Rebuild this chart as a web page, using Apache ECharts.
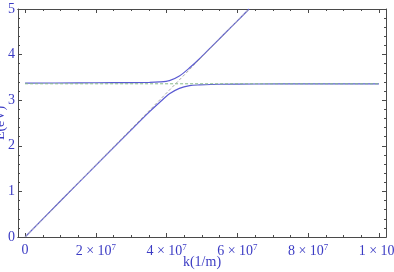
<!DOCTYPE html>
<html>
<head>
<meta charset="utf-8">
<script src="https://cdn.jsdelivr.net/npm/echarts@6/dist/echarts.min.js"></script>
<style>
  html, body { margin: 0; padding: 0; background: #fff; }
  #chart { width: 394px; height: 272px; }
</style>
</head>
<body>
<div id="chart"></div>
<script>
// wave vector k in 1/m, energy E in eV
const lowerK = [0, 1e7, 2e7, 3e7, 3.52e7, 3.8e7, 4.08e7, 4.36e7, 4.65e7, 4.93e7, 5.5e7, 6.5e7, 8e7, 1e8];
const lowerE = [0, 0.79, 1.57, 2.35, 2.75, 2.95, 3.14, 3.26, 3.32, 3.335, 3.35, 3.355, 3.36, 3.36];
const upperK = [0, 1.5e7, 2.5e7, 3.52e7, 3.8e7, 4.08e7, 4.36e7, 4.65e7, 4.93e7, 5.2e7, 5.6e7, 6.0e7, 6.33e7];
const upperE = [3.375, 3.38, 3.385, 3.39, 3.40, 3.43, 3.53, 3.71, 3.91, 4.12, 4.43, 4.74, 5.0];
const excitonK = [0, 1e8];
const excitonE = [3.36, 3.36];
const photonK = [0, 6.33e7];
const photonE = [0, 5];

// tick labels of the k axis: mantissa x 10^exponent
const xTickValues = [0, 2e7, 4e7, 6e7, 8e7, 1e8];
const xTickMant = ['0', '2', '4', '6', '8', '1'];
const xTickExp = ['', '7', '7', '7', '7', '8'];
const xMinorValues = [0, 5e6, 1e7, 1.5e7, 2e7, 2.5e7, 3e7, 3.5e7, 4e7, 4.5e7, 5e7, 5.5e7, 6e7, 6.5e7, 7e7, 7.5e7, 8e7, 8.5e7, 9e7, 9.5e7, 1e8];

const pairs = (xs, ys) => xs.map((x, i) => [x, ys[i]]);

const txtColor = '#3b3bc4';
const frameColor = '#4a4a4a';
const font = '"Liberation Serif", "DejaVu Serif", serif';

const chart = echarts.init(document.getElementById('chart'));

function xAxisDef (position, showLabel, values, tickLen) {
    return {
        type: 'value',
        position: position,
        min: -2e6,
        max: 1.02e8,
        axisLine: { show: true, onZero: false, lineStyle: { color: frameColor, width: 1 } },
        axisTick: { show: true, inside: true, length: tickLen, customValues: values,
            lineStyle: { color: frameColor } },
        axisLabel: {
            show: showLabel,
            customValues: values,
            margin: 6,
            color: txtColor,
            fontFamily: font,
            fontSize: 14,
            hideOverlap: false,
            formatter: function (v) {
                const i = xTickValues.indexOf(v);
                if (i < 0) return '';
                if (!xTickExp[i]) return '{m|' + xTickMant[i] + '}';
                return '{m|' + xTickMant[i] + ' \u00d7 10}{s|' + xTickExp[i] + '}';
            },
            rich: {
                m: { fontFamily: font, fontSize: 14, color: txtColor },
                s: { fontFamily: font, fontSize: 9, color: txtColor, verticalAlign: 'top', padding: [0, 0, 7, 0] }
            }
        },
        splitLine: { show: false }
    };
}

function yAxisDef (position, showLabel) {
    return {
        type: 'value',
        position: position,
        min: 0,
        max: 5,
        interval: 1,
        axisLine: { show: true, onZero: false, lineStyle: { color: frameColor, width: 1 } },
        axisTick: { show: true, inside: true, length: 4, lineStyle: { color: frameColor } },
        minorTick: { show: true, splitNumber: 5, length: 2, lineStyle: { color: frameColor } },
        axisLabel: { show: showLabel, color: txtColor, fontFamily: font, fontSize: 14, margin: 3 },
        splitLine: { show: false }
    };
}

const bottom = xAxisDef('bottom', true, xTickValues, 4);
bottom.name = 'k(1/m)';
bottom.nameLocation = 'middle';
bottom.nameGap = 18;
bottom.nameMoveOverlap = false;
bottom.nameTextStyle = { color: txtColor, fontFamily: font, fontSize: 14 };

const left = yAxisDef('left', true);
left.name = 'E(eV)';
left.nameLocation = 'middle';
left.nameGap = 11;
left.nameMoveOverlap = false;
left.nameTextStyle = { color: txtColor, fontFamily: font, fontSize: 14 };

chart.setOption({
    animation: false,
    backgroundColor: '#fff',
    grid: { left: 18, right: 8, top: 9, bottom: 35, containLabel: false, outerBoundsMode: 'none' },
    xAxis: [
        bottom,
        xAxisDef('bottom', false, xMinorValues, 2),
        xAxisDef('top', false, xTickValues, 4),
        xAxisDef('top', false, xMinorValues, 2)
    ],
    yAxis: [left, yAxisDef('right', false)],
    series: [
        {
            type: 'line', data: pairs(lowerK, lowerE), smooth: 0.3, symbol: 'none',
            lineStyle: { color: '#5a5ad2', width: 1.2 }, clip: true
        },
        {
            type: 'line', data: pairs(upperK, upperE), smooth: 0.3, symbol: 'none',
            lineStyle: { color: '#5a5ad2', width: 1.2 }, clip: true
        },
        {
            type: 'line', data: pairs(excitonK, excitonE), symbol: 'none',
            lineStyle: { color: '#86bb86', width: 1, type: [3, 2] }
        },
        {
            type: 'line', data: pairs(photonK, photonE), symbol: 'none',
            lineStyle: { color: '#a8a8a8', width: 1, type: [3, 2] }
        }
    ]
});
</script>
</body>
</html>
